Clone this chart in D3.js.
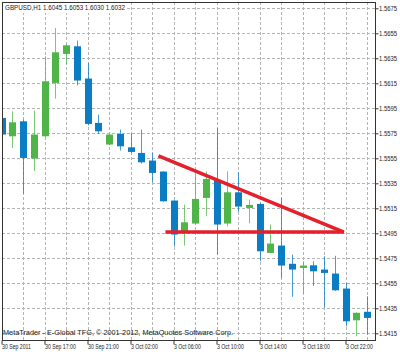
<!DOCTYPE html>
<html>
<head>
<meta charset="utf-8">
<script src="https://cdn.jsdelivr.net/npm/d3@7"></script>
<style>
    html, body { margin: 0; padding: 0; background: #fff; }
    svg text { font-family: 'Liberation Sans', Arial, sans-serif; font-size: 7px; fill: #222; }
</style>
</head>
<body>
<candle-chart></candle-chart>
<script>
// GBPUSD H1 bars (bar index 0 = 30 Sep 13:00)
const opens  = [1.55873, 1.55726, 1.55846, 1.55548, 1.55726, 1.56153, 1.56385, 1.56446, 1.56188, 1.55833,
                1.55660, 1.55745, 1.55638, 1.55593, 1.55532, 1.55444, 1.55212, 1.54953, 1.55028, 1.55233,
                1.55374, 1.55028, 1.55278, 1.55153, 1.55185, 1.54793, 1.54852, 1.54706, 1.54673, 1.54694,
                1.54660, 1.54628, 1.54508, 1.54254, 1.54322];
const highs  = [1.55913, 1.55926, 1.55860, 1.55932, 1.56366, 1.56593, 1.56462, 1.56492, 1.56313, 1.55900,
                1.55745, 1.55780, 1.55748, 1.55780, 1.55593, 1.55446, 1.55214, 1.55180, 1.55420, 1.55446,
                1.55793, 1.55446, 1.55438, 1.55220, 1.55194, 1.55020, 1.55233, 1.54780, 1.54726, 1.54726,
                1.54766, 1.54770, 1.54553, 1.54318, 1.54446];
const lows   = [1.55553, 1.55633, 1.55268, 1.55446, 1.55718, 1.56028, 1.56302, 1.56134, 1.55814, 1.55745,
                1.55654, 1.55612, 1.55593, 1.55508, 1.55358, 1.55202, 1.54846, 1.54852, 1.55022, 1.55086,
                1.54780, 1.55006, 1.55122, 1.55030, 1.54726, 1.54790, 1.54593, 1.54442, 1.54470, 1.54529,
                1.54358, 1.54490, 1.54206, 1.54126, 1.54140];
const closes = [1.55740, 1.55838, 1.55553, 1.55740, 1.56166, 1.56398, 1.56454, 1.56172, 1.55825, 1.55766,
                1.55740, 1.55646, 1.55601, 1.55518, 1.55433, 1.55206, 1.54940, 1.55038, 1.55225, 1.55385,
                1.55020, 1.55278, 1.55164, 1.55177, 1.54806, 1.54868, 1.54692, 1.54660, 1.54692, 1.54646,
                1.54633, 1.54494, 1.54246, 1.54314, 1.54273];

const priceTicks = [1.5675, 1.5655, 1.5635, 1.5615, 1.5595, 1.5575, 1.5555,
                    1.5535, 1.5515, 1.5495, 1.5475, 1.5455, 1.5435, 1.5415];
const timeTickBars = [0, 4, 8, 12, 16, 20, 24, 28, 32];
const timeLabels = ['30 Sep 2011', '30 Sep 17:00', '30 Sep 21:00', '3 Oct 02:00', '3 Oct 06:00',
                    '3 Oct 10:00', '3 Oct 14:00', '3 Oct 18:00', '3 Oct 22:00'];

// hand drawn triangle (bar index, price)
const trendBars = [14.6, 31.85];
const trendPrices = [1.5557, 1.5496];
const supportBars = [15.25, 31.85];
const supportPrices = [1.5496, 1.5496];

const headerText = 'GBPUSD,H1  1.6045 1.6053 1.6030 1.6032';
const footerText = 'MetaTrader - E-Global TFG, \u00a9 2001-2012, MetaQuotes Software Corp.';

class CandleChart extends HTMLElement {
    constructor() {
        super();

        this.width = 400;
        this.height = 352;
        this.left = 2;
        this.top = 2;
        this.right = 375;
        this.bottom = 340;

        this.bull = '#4fb548';
        this.bear = '#0b7dc4';

        this.svg = d3.select(this)
            .append('svg')
            .attr('width', this.width)
            .attr('height', this.height)
            .style('display', 'block');
    }
    //----------------------------------------------------------------------------
    connectedCallback() {
        this.data = opens.map((o, i) => ({ i, o, h: highs[i], l: lows[i], c: closes[i] }));

        this.#scaling();
        this.#drawGrid();
        this.#drawCandles();
        this.#drawTriangle();
        this.#drawAxis();
        this.#drawTexts();
    }
    //----------------------------------------------------------------------------
    #scaling() {
        this.xScale = d3.scaleLinear()
            .domain([2, 34])
            .range([23, 367]);

        this.yScale = d3.scaleLinear()
            .domain([1.5415, 1.5675])
            .range([333.3, 8.3]);
    }
    //----------------------------------------------------------------------------
    // the terminal font is narrow, so squeeze text horizontally
    #squeeze(sel, k) {
        sel.each(function () {
            const w = this.getComputedTextLength();
            d3.select(this)
                .attr('textLength', w * k)
                .attr('lengthAdjust', 'spacingAndGlyphs');
        });
    }
    //----------------------------------------------------------------------------
    #drawGrid() {
        const grid = this.svg.append('g')
            .attr('stroke', '#b4b4b4')
            .attr('stroke-dasharray', '3,2');

        grid.selectAll('.hgrid')
            .data(priceTicks)
            .join('line')
            .attr('x1', this.left)
            .attr('x2', this.right)
            .attr('y1', d => Math.round(this.yScale(d)) + 0.5)
            .attr('y2', d => Math.round(this.yScale(d)) + 0.5);

        grid.selectAll('.vgrid')
            .data(d3.range(2, 35, 2))
            .join('line')
            .attr('x1', d => Math.round(this.xScale(d)) + 0.5)
            .attr('x2', d => Math.round(this.xScale(d)) + 0.5)
            .attr('y1', this.top)
            .attr('y2', this.bottom);
    }
    //----------------------------------------------------------------------------
    #drawCandles() {
        this.svg.append('clipPath')
            .attr('id', 'plot-clip')
            .append('rect')
            .attr('x', this.left)
            .attr('y', this.top)
            .attr('width', this.right - this.left)
            .attr('height', this.bottom - this.top);

        const candles = this.svg.append('g')
            .attr('clip-path', 'url(#plot-clip)')
            .selectAll('g')
            .data(this.data)
            .join('g')
            .attr('transform', d => `translate(${Math.round(this.xScale(d.i))}, 0)`);

        candles.append('line')
            .attr('x1', 0.5)
            .attr('x2', 0.5)
            .attr('y1', d => this.yScale(d.h))
            .attr('y2', d => this.yScale(d.l))
            .attr('stroke', d => d.c >= d.o ? this.bull : this.bear)
            .attr('stroke-opacity', 0.75);

        candles.append('rect')
            .attr('x', -3)
            .attr('width', 7)
            .attr('y', d => this.yScale(Math.max(d.o, d.c)))
            .attr('height', d => Math.max(2, Math.abs(this.yScale(d.o) - this.yScale(d.c))))
            .attr('fill', d => d.c >= d.o ? this.bull : this.bear);
    }
    //----------------------------------------------------------------------------
    #drawTriangle() {
        const line = d3.line()
            .x(d => this.xScale(d[0]))
            .y(d => this.yScale(d[1]));

        const g = this.svg.append('g')
            .attr('fill', 'none')
            .attr('stroke', '#e3202b')
            .attr('stroke-width', 3.5);

        g.append('path')
            .attr('d', line(d3.zip(trendBars, trendPrices)));

        g.append('path')
            .attr('d', line(d3.zip(supportBars, supportPrices)));
    }
    //----------------------------------------------------------------------------
    #drawAxis() {
        // frame
        this.svg.append('rect')
            .attr('x', this.left + 0.5)
            .attr('y', this.top + 0.5)
            .attr('width', this.right - this.left)
            .attr('height', this.bottom - this.top)
            .attr('fill', 'none')
            .attr('stroke', '#333');

        // price axis
        const yAxis = d3.axisRight(this.yScale)
            .tickValues(priceTicks)
            .tickSize(3)
            .tickPadding(0.5)
            .tickFormat(d3.format('.4f'));

        const gy = this.svg.append('g')
            .attr('transform', `translate(${this.right + 0.5}, 0)`)
            .call(yAxis);
        gy.select('.domain').remove();
        gy.selectAll('.tick line').attr('stroke', '#333');
        gy.selectAll('text').attr('font-size', null).attr('font-family', null);
        this.#squeeze(gy.selectAll('text'), 0.84);

        // time axis
        const xAxis = d3.axisBottom(this.xScale)
            .tickValues(timeTickBars)
            .tickSize(4)
            .tickPadding(0)
            .tickFormat((d, i) => timeLabels[i]);

        const gx = this.svg.append('g')
            .attr('transform', `translate(0, ${this.bottom + 0.5})`)
            .call(xAxis);
        gx.select('.domain').remove();
        gx.selectAll('.tick line').attr('stroke', '#333');
        gx.selectAll('text')
            .attr('text-anchor', 'start')
            .attr('x', 0)
            .attr('font-size', null)
            .attr('font-family', null);
        this.#squeeze(gx.selectAll('text'), 0.74);
    }
    //----------------------------------------------------------------------------
    #drawTexts() {
        this.svg.append('rect')
            .attr('x', 3)
            .attr('y', 3)
            .attr('width', 124)
            .attr('height', 10)
            .attr('fill', '#fff');

        const header = this.svg.append('text')
            .attr('x', 5)
            .attr('y', 9.5)
            .text(headerText);
        this.#squeeze(header, 120 / header.node().getComputedTextLength());

        const footer = this.svg.append('text')
            .attr('x', 3)
            .attr('y', 334.5)
            .text(footerText);
        this.#squeeze(footer, 230 / footer.node().getComputedTextLength());
    }
    //----------------------------------------------------------------------------
    static define(tag = 'candle-chart') {
        customElements.define(tag, this);
    }
}

CandleChart.define();
</script>
</body>
</html>
